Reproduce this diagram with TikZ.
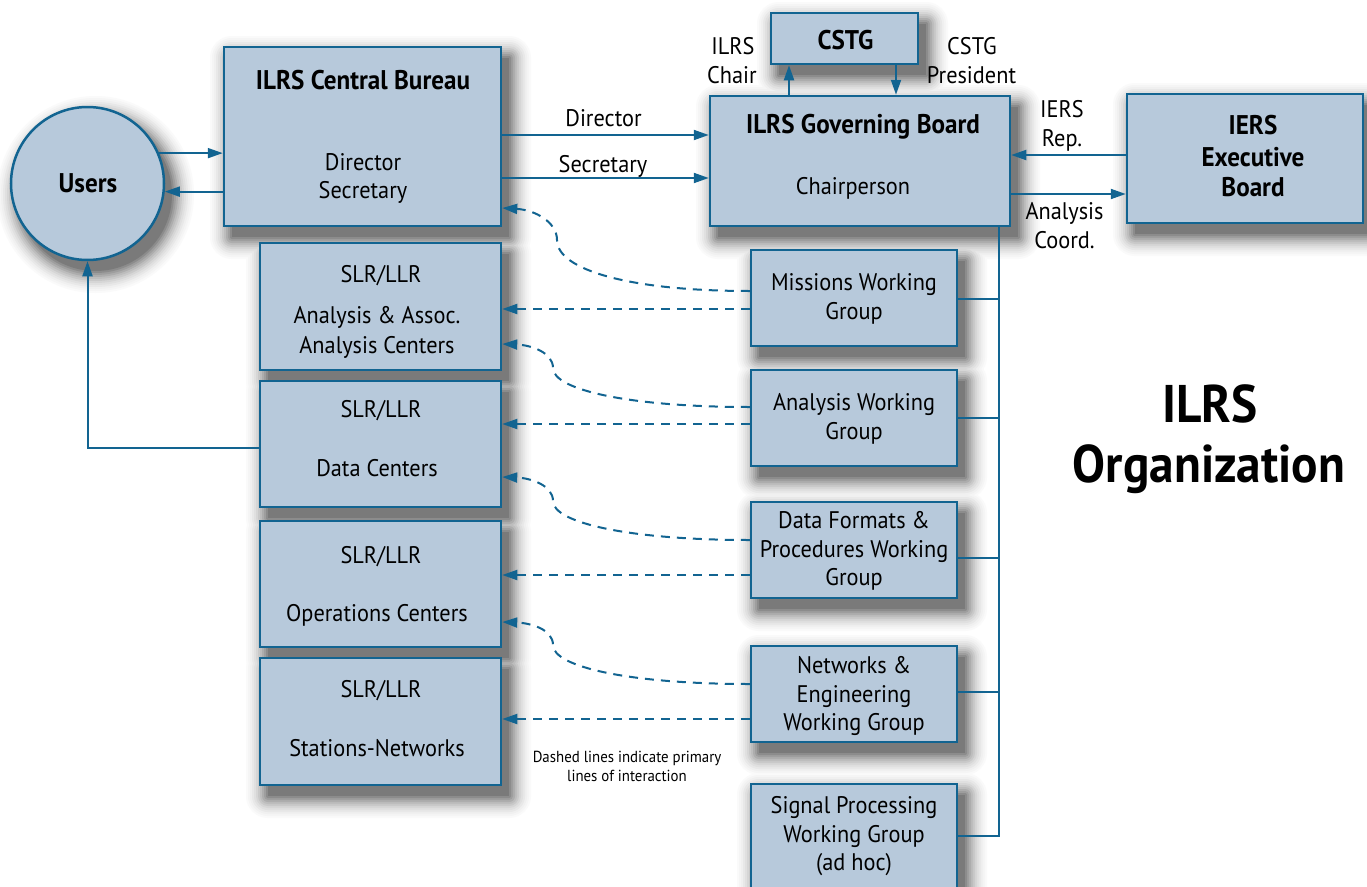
\documentclass[tikz,border=0pt]{standalone}
\usepackage{fontspec}
\setmainfont{PT Sans}[FakeStretch=0.93]
\usetikzlibrary{arrows.meta,calc}
\definecolor{lc}{RGB}{18,100,145}
\definecolor{fc}{RGB}{183,201,219}
\begin{document}
\begin{tikzpicture}[x=1pt,y=-1pt,
  box/.style={draw=lc, fill=fc, line width=2.5pt, inner sep=0pt},
  rt/.style={anchor=base, inner sep=0pt, font=\fontsize{24}{29}\selectfont},
  bt/.style={anchor=base, inner sep=0pt, font=\fontsize{27}{31}\selectfont\bfseries},
  st/.style={anchor=base, inner sep=0pt, font=\fontsize{16}{19}\selectfont},
  ht/.style={anchor=base, inner sep=0pt, font=\fontsize{53}{60}\selectfont\bfseries},
  ln/.style={draw=lc, line width=2pt},
  arr/.style={ln, -{Triangle[length=15pt,width=10pt]}},
  darr/.style={arr, dash pattern=on 9pt off 7pt},
]
\useasboundingbox (0,0) rectangle (1367,886);
\clip (0,0) rectangle (1367,886);
\fill[white] (0,0) rectangle (1367,886);

% soft drop shadows: graded grey rings, all boxes ring by ring
\foreach \r/\k in {22/2,20/4,18/6,16/9,14/12,12/16,10/21,8/26,6/32,4/38,2/45,0/52}{
  \fill[black!\k] (87.5+8,183.5+11) circle[radius=76.5+\r];
  \foreach \xa/\ya/\xb/\yb in {224/47/501/226, 710/96/1010/226, 771/13/918/64,
      1127/94/1363/223, 260/243/501/370, 260/381/501/507, 260/521/501/647,
      260/658/501/785, 751/250/957/346, 751/370/957/466, 751/502/957/598,
      751/646/957/742, 751/784/957/900}{
    \fill[black!\k, rounded corners=\r] (\xa+8-\r,\ya+11-\r) rectangle (\xb+8+\r,\yb+11+\r);
  }
}

% boxes
\node[box, circle, minimum size=153] (users) at (87.5,183.5) {};
\node[box, minimum width=277, minimum height=179] (cb) at (362.5,136.5) {};
\node[box, minimum width=300, minimum height=130] (gb) at (860,161) {};
\node[box, minimum width=147, minimum height=51] (cstg) at (844.5,38.5) {};
\node[box, minimum width=236, minimum height=129] (iers) at (1245,158.5) {};
\node[box, minimum width=241, minimum height=127] (ac) at (380.5,306.5) {};
\node[box, minimum width=241, minimum height=126] (dc) at (380.5,444) {};
\node[box, minimum width=241, minimum height=126] (oc) at (380.5,584) {};
\node[box, minimum width=241, minimum height=127] (sn) at (380.5,721.5) {};
\node[box, minimum width=206, minimum height=96] (mwg) at (854,298) {};
\node[box, minimum width=206, minimum height=96] (awg) at (854,418) {};
\node[box, minimum width=206, minimum height=96] (dwg) at (854,550) {};
\node[box, minimum width=206, minimum height=96] (nwg) at (854,694) {};
\node[box, minimum width=206, minimum height=116] (swg) at (854,842) {};

% solid connectors
\draw[arr] (users.23) -- (users.23 -| cb.west);
\draw[arr] (users.-6 -| cb.west) -- (users.-6);
\draw[arr] (cb.east |- 0,135) -- (gb.west |- 0,135);
\draw[arr] (cb.east |- 0,178) -- (gb.west |- 0,178);
\draw[arr] (gb.north -| 789,0) -- (cstg.south -| 789,0);
\draw[arr] (cstg.south -| 896,0) -- (gb.north -| 896,0);
\draw[arr] (iers.west |- 0,155) -- (gb.east |- 0,155);
\draw[arr] (gb.east |- 0,194) -- (iers.west |- 0,194);
\draw[arr] (dc.west |- 0,448) -| (users.south);
\coordinate (busend) at (999,836);
\draw[ln] (gb.south -| busend) -- (busend) -- (swg.east |- busend);
\draw[ln] (mwg.east |- 0,299) -- (busend |- 0,299);
\draw[ln] (awg.east |- 0,418) -- (busend |- 0,418);
\draw[ln] (dwg.east |- 0,558) -- (busend |- 0,558);
\draw[ln] (nwg.east |- 0,692) -- (busend |- 0,692);

% dashed connectors
\draw[darr] (mwg.west |- 0,291) .. controls (630,291) and (557,270) .. (557,240) .. controls (557,222) and (535,210) .. (cb.east |- 0,208);
\draw[darr] (mwg.west |- 0,309) -- (ac.east |- 0,309);
\draw[darr] (awg.west |- 0,407) .. controls (630,407) and (553,390) .. (553,368) .. controls (553,352) and (530,345) .. (ac.east |- 0,344);
\draw[darr] (awg.west |- 0,424) -- (dc.east |- 0,424);
\draw[darr] (dwg.west |- 0,540) .. controls (630,540) and (553,523) .. (553,501) .. controls (553,485) and (530,478) .. (dc.east |- 0,477);
\draw[darr] (dwg.west |- 0,575) -- (oc.east |- 0,575);
\draw[darr] (nwg.west |- 0,684) .. controls (630,684) and (553,667) .. (553,645) .. controls (553,629) and (530,623) .. (oc.east |- 0,622);
\draw[darr] (nwg.west |- 0,719) -- (sn.east |- 0,719);

% texts
\node[bt] (t1) at (88,192) {Users};
\node[bt] (t2) at (363,89) {ILRS Central Bureau};
\node[rt] (t3) at (363,170) {Director};
\node[rt] (t4) at (363,198) {Secretary};
\node[bt] (t5) at (863,133) {ILRS Governing Board};
\node[rt] (t6) at (853,194) {Chairperson};
\node[bt] (t7) at (845.5,49) {CSTG};
\node[rt] (t8) at (733,54) {ILRS};
\node[rt] (t9) at (732,83) {Chair};
\node[rt] (t10) at (972,54) {CSTG};
\node[rt] (t11) at (971.5,83) {President};
\node[rt] (t12) at (603.5,126) {Director};
\node[rt] (t13) at (603,172) {Secretary};
\node[rt] (t14) at (1062,117) {IERS};
\node[rt] (t15) at (1062,146) {Rep.};
\node[rt] (t16) at (1064.5,219) {Analysis};
\node[rt] (t17) at (1064.5,248) {Coord.};
\node[bt] (t18) at (1253,134) {IERS};
\node[bt] (t19) at (1253,166) {Executive};
\node[bt] (t20) at (1253,196) {Board};
\node[rt] (t21) at (381,282) {SLR/LLR};
\node[rt] (t22) at (377,323) {Analysis \& Assoc.};
\node[rt] (t23) at (377,353) {Analysis Centers};
\node[rt] (t24) at (381,417) {SLR/LLR};
\node[rt] (t25) at (377,476) {Data Centers};
\node[rt] (t26) at (381,563) {SLR/LLR};
\node[rt] (t27) at (377,621) {Operations Centers};
\node[rt] (t28) at (381,697) {SLR/LLR};
\node[rt] (t29) at (377,756) {Stations-Networks};
\node[rt] (t30) at (854,290) {Missions Working};
\node[rt] (t31) at (854,319) {Group};
\node[rt] (t32) at (854,410) {Analysis Working};
\node[rt] (t33) at (854,439) {Group};
\node[rt] (t34) at (854,528) {Data Formats \&};
\node[rt] (t35) at (854,557) {Procedures Working};
\node[rt] (t36) at (854,585) {Group};
\node[rt] (t37) at (854,673) {Networks \&};
\node[rt] (t38) at (854,702) {Engineering};
\node[rt] (t39) at (854,730) {Working Group};
\node[rt] (t40) at (854,813) {Signal Processing};
\node[rt] (t41) at (854,842) {Working Group};
\node[rt] (t42) at (854,870) {(ad hoc)};
\node[st] (t43) at (627,762) {Dashed lines indicate primary};
\node[st] (t44) at (627,781) {lines of interaction};
\node[ht] (t45) at (1210,422) {ILRS};
\node[ht] (t46) at (1209,482) {Organization};
\end{tikzpicture}
\end{document}
